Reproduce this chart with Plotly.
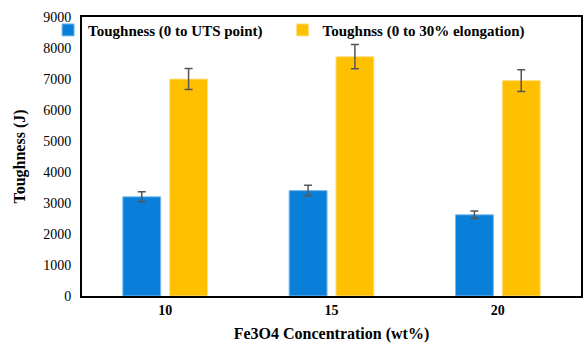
import plotly.graph_objects as go

categories = ["10", "15", "20"]
uts_vals = [3200, 3400, 2620]
uts_err = [160, 170, 120]
elong_vals = [7000, 7720, 6950]
elong_err = [340, 390, 350]
y_ticks = [0, 1000, 2000, 3000, 4000, 5000, 6000, 7000, 8000, 9000]
series_names = ["Toughness (0 to UTS point)", "Toughnss (0 to 30% elongation)"]

font_family = "Liberation Serif, Times New Roman, serif"
pad = "\u00a0" * 4

fig = go.Figure()
fig.add_trace(go.Bar(
    x=categories, y=uts_vals, name="<b>" + series_names[0] + pad + "</b>",
    marker=dict(color="#0A7FD9", line=dict(color="#7DBBEE", width=1)),
    error_y=dict(type="data", array=uts_err, color="#555555", thickness=1.5, width=4),
))
fig.add_trace(go.Bar(
    x=categories, y=elong_vals, name="<b>" + series_names[1] + "</b>",
    marker=dict(color="#FFC000", line=dict(color="#FFE08A", width=1)),
    error_y=dict(type="data", array=elong_err, color="#555555", thickness=1.5, width=4),
))

fig.update_layout(
    width=585, height=343,
    margin=dict(l=82, r=2, t=17, b=47),
    paper_bgcolor="white", plot_bgcolor="white",
    barmode="group", bargap=0.437, bargroupgap=0.19,
    font=dict(family=font_family, color="black", size=14),
    legend=dict(orientation="h", x=-0.068, y=1.012, xanchor="left", yanchor="top",
                bgcolor="rgba(0,0,0,0)", font=dict(size=15, family=font_family),
                itemwidth=30, traceorder="normal"),
    xaxis=dict(
        showline=True, linecolor="black", linewidth=2, mirror=True,
        tickfont=dict(size=14, family=font_family), ticks="",
        tickprefix="<b>", ticksuffix="</b>",
        title=dict(text="<b>Fe3O4 Concentration (wt%)</b>", font=dict(size=16, family=font_family), standoff=12),
    ),
    yaxis=dict(
        range=[0, 9000], tickvals=y_ticks, showgrid=False,
        showline=True, linecolor="black", linewidth=2, mirror=True,
        tickfont=dict(size=14, family=font_family), ticks="", ticklabelstandoff=6,
        tickprefix="<b>", ticksuffix="</b>",
        title=dict(text="<b>Toughness (J)</b>", font=dict(size=16, family=font_family), standoff=14),
    ),
)
fig.write_html("out.html")
